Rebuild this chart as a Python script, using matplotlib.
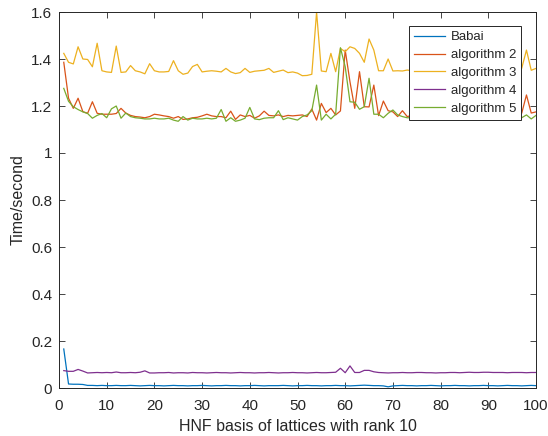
import matplotlib.pyplot as plt
import numpy as np

plt.rcParams['font.family'] = ['Liberation Sans', 'DejaVu Sans']

x = np.arange(1, 101)

babai = [0.166, 0.017, 0.016, 0.016, 0.015, 0.011, 0.011, 0.010, 0.011, 0.010,
         0.010, 0.011, 0.010, 0.010, 0.011, 0.010, 0.009, 0.010, 0.011, 0.010,
         0.010, 0.009, 0.010, 0.011, 0.010, 0.010, 0.009, 0.010, 0.010, 0.011,
         0.010, 0.009, 0.010, 0.010, 0.011, 0.010, 0.010, 0.009, 0.010, 0.010,
         0.011, 0.010, 0.009, 0.010, 0.010, 0.010, 0.011, 0.010, 0.009, 0.010,
         0.010, 0.011, 0.010, 0.010, 0.009, 0.010, 0.010, 0.011, 0.010, 0.010,
         0.009, 0.010, 0.011, 0.012, 0.011, 0.010, 0.010, 0.009, 0.005, 0.009,
         0.010, 0.011, 0.010, 0.010, 0.009, 0.010, 0.010, 0.011, 0.010, 0.009,
         0.010, 0.010, 0.011, 0.010, 0.010, 0.009, 0.010, 0.010, 0.011, 0.010,
         0.010, 0.009, 0.010, 0.011, 0.010, 0.010, 0.009, 0.010, 0.011, 0.010]

alg2 = [1.386, 1.233, 1.190, 1.233, 1.176, 1.169, 1.218, 1.169, 1.165, 1.165,
        1.165, 1.168, 1.190, 1.170, 1.160, 1.155, 1.153, 1.150, 1.155, 1.165,
        1.162, 1.158, 1.155, 1.148, 1.155, 1.143, 1.145, 1.150, 1.152, 1.158,
        1.165, 1.158, 1.155, 1.155, 1.150, 1.178, 1.143, 1.162, 1.155, 1.160,
        1.148, 1.158, 1.178, 1.160, 1.158, 1.162, 1.155, 1.160, 1.158, 1.160,
        1.162, 1.155, 1.187, 1.140, 1.211, 1.172, 1.190, 1.162, 1.179, 1.438,
        1.303, 1.190, 1.346, 1.197, 1.196, 1.289, 1.159, 1.221, 1.180, 1.175,
        1.155, 1.180, 1.155, 1.160, 1.165, 1.158, 1.162, 1.155, 1.160, 1.165,
        1.158, 1.160, 1.162, 1.155, 1.160, 1.158, 1.165, 1.160, 1.155, 1.162,
        1.158, 1.160, 1.165, 1.158, 1.160, 1.162, 1.169, 1.247, 1.170, 1.175]

alg3 = [1.424, 1.386, 1.379, 1.452, 1.400, 1.398, 1.367, 1.467, 1.350, 1.345,
        1.343, 1.455, 1.343, 1.345, 1.372, 1.350, 1.345, 1.337, 1.380, 1.350,
        1.345, 1.345, 1.347, 1.393, 1.350, 1.335, 1.340, 1.368, 1.377, 1.345,
        1.348, 1.350, 1.348, 1.345, 1.360, 1.345, 1.338, 1.342, 1.360, 1.343,
        1.348, 1.350, 1.352, 1.360, 1.343, 1.348, 1.353, 1.342, 1.345, 1.340,
        1.329, 1.330, 1.335, 1.600, 1.349, 1.346, 1.424, 1.346, 1.445, 1.431,
        1.452, 1.445, 1.424, 1.386, 1.485, 1.438, 1.350, 1.350, 1.400, 1.349,
        1.350, 1.349, 1.353, 1.350, 1.355, 1.345, 1.348, 1.352, 1.360, 1.345,
        1.350, 1.348, 1.355, 1.342, 1.350, 1.352, 1.346, 1.358, 1.345, 1.350,
        1.348, 1.353, 1.345, 1.350, 1.356, 1.348, 1.360, 1.438, 1.352, 1.360]

alg4 = [0.074, 0.071, 0.071, 0.079, 0.072, 0.064, 0.065, 0.066, 0.065, 0.066,
        0.065, 0.068, 0.065, 0.065, 0.066, 0.065, 0.067, 0.073, 0.064, 0.064,
        0.065, 0.065, 0.066, 0.064, 0.065, 0.065, 0.064, 0.066, 0.065, 0.065,
        0.064, 0.065, 0.066, 0.065, 0.065, 0.064, 0.065, 0.066, 0.065, 0.065,
        0.064, 0.065, 0.065, 0.066, 0.065, 0.064, 0.065, 0.065, 0.066, 0.065,
        0.065, 0.064, 0.065, 0.066, 0.065, 0.065, 0.066, 0.067, 0.084, 0.065,
        0.094, 0.066, 0.066, 0.075, 0.075, 0.069, 0.066, 0.065, 0.064, 0.065,
        0.065, 0.066, 0.065, 0.065, 0.066, 0.066, 0.065, 0.065, 0.064, 0.065,
        0.065, 0.066, 0.066, 0.065, 0.066, 0.067, 0.066, 0.066, 0.067, 0.067,
        0.066, 0.066, 0.066, 0.065, 0.066, 0.066, 0.066, 0.065, 0.066, 0.066]

alg5 = [1.275, 1.220, 1.197, 1.185, 1.175, 1.168, 1.148, 1.160, 1.168, 1.150,
        1.188, 1.200, 1.148, 1.170, 1.155, 1.150, 1.148, 1.145, 1.145, 1.148,
        1.145, 1.145, 1.148, 1.140, 1.135, 1.155, 1.140, 1.148, 1.145, 1.145,
        1.148, 1.145, 1.148, 1.185, 1.135, 1.150, 1.135, 1.140, 1.148, 1.194,
        1.145, 1.142, 1.148, 1.150, 1.150, 1.180, 1.142, 1.150, 1.145, 1.140,
        1.155, 1.162, 1.180, 1.289, 1.140, 1.165, 1.145, 1.165, 1.448, 1.367,
        1.218, 1.216, 1.186, 1.197, 1.318, 1.165, 1.165, 1.150, 1.169, 1.183,
        1.162, 1.155, 1.150, 1.150, 1.148, 1.155, 1.145, 1.150, 1.152, 1.145,
        1.150, 1.148, 1.155, 1.145, 1.150, 1.148, 1.152, 1.145, 1.150, 1.155,
        1.148, 1.150, 1.145, 1.152, 1.148, 1.150, 1.150, 1.162, 1.145, 1.160]

series = [babai, alg2, alg3, alg4, alg5]
labels = ['Babai', 'algorithm 2', 'algorithm 3', 'algorithm 4', 'algorithm 5']
colors = ['#0072BD', '#D95319', '#EDB120', '#7E2F8E', '#77AC30']

yticks = [0, 0.2, 0.4, 0.6, 0.8, 1.0, 1.2, 1.4, 1.6]
ytick_labels = ['0', '0.2', '0.4', '0.6', '0.8', '1', '1.2', '1.4', '1.6']

fig = plt.figure(figsize=(5.48, 4.36), dpi=100)
ax = fig.add_axes([59/548, 48/436, 477/548, 376/436])

for s, lab, c in zip(series, labels, colors):
    ax.plot(x, s, color=c, lw=0.9, label=lab)

dark = '#262626'
ax.set_xlim(0, 100)
ax.set_ylim(0, 1.6)
ax.set_xticks(np.arange(0, 101, 10))
ax.set_yticks(yticks)
ax.set_yticklabels(ytick_labels)
ax.tick_params(direction='in', top=True, right=True, length=4, width=0.6,
               colors=dark, labelsize=11)
ax.tick_params(axis='x', pad=8)
ax.tick_params(axis='y', pad=5)
for sp in ax.spines.values():
    sp.set_color(dark)
    sp.set_linewidth(0.7)
ax.set_xlabel('HNF basis of lattices with rank 10', fontsize=11.5, color=dark, labelpad=4)
ax.set_ylabel('Time/second', fontsize=11.5, color=dark, labelpad=4)

leg = ax.legend(loc='upper right', bbox_to_anchor=(0.969, 0.963), fontsize=9.5,
                fancybox=False, framealpha=1, edgecolor=dark, borderaxespad=0,
                handlelength=2.35, handletextpad=0.4, labelspacing=0.42,
                borderpad=0.4)
leg.get_frame().set_linewidth(0.7)
for t in leg.get_texts():
    t.set_color(dark)

fig.savefig('out.png', dpi=100)
